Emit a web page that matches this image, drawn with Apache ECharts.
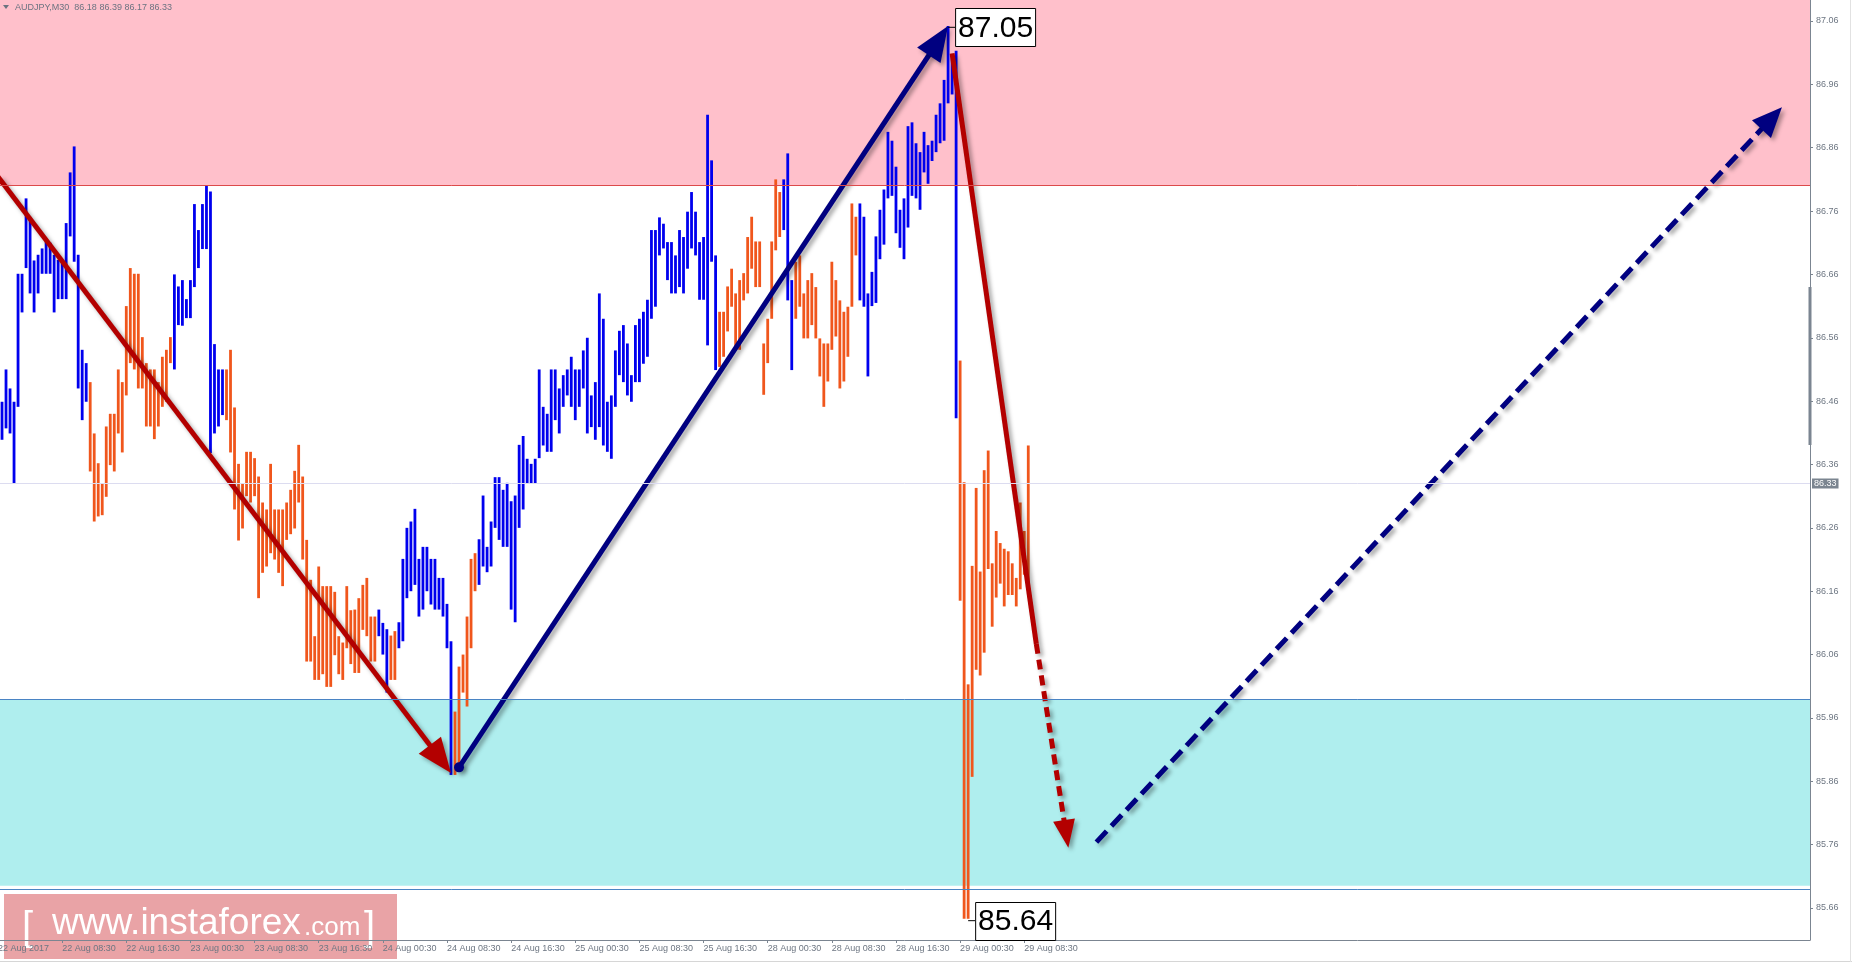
<!DOCTYPE html>
<html><head><meta charset="utf-8">
<script src="https://cdn.jsdelivr.net/npm/echarts@6/dist/echarts.min.js"></script>
<style>html,body{margin:0;padding:0;background:#fff;overflow:hidden}#c{width:1852px;height:963px}</style>
</head><body><div id="c"></div><script>
// ---------- data ----------
const symbolName = 'AUDJPY,M30';
const lastBar = [86.18, 86.39, 86.17, 86.33]; // O H L C of the current bar
const tickLabels = ["22 Aug 2017","22 Aug 08:30","22 Aug 16:30","23 Aug 00:30","23 Aug 08:30","23 Aug 16:30",
  "24 Aug 00:30","24 Aug 08:30","24 Aug 16:30","25 Aug 00:30","25 Aug 08:30","25 Aug 16:30",
  "28 Aug 00:30","28 Aug 08:30","28 Aug 16:30","29 Aug 00:30","29 Aug 08:30"];
const yTickValues = [85.66,85.76,85.86,85.96,86.06,86.16,86.26,86.36,86.46,86.56,86.66,86.76,86.86,86.96,87.06];
const yRange = [85.6095, 87.0931];
const highs = [
86.451,86.459,86.510,86.480,86.459,86.661,86.661,86.780,86.750,86.682,
86.691,86.701,86.712,86.710,86.691,86.683,86.683,86.741,86.821,86.862,
86.691,86.541,86.520,86.490,86.409,86.362,86.330,86.420,86.440,86.440,
86.510,86.490,86.610,86.670,86.661,86.661,86.561,86.520,86.510,86.510,
86.490,86.530,86.541,86.561,86.660,86.641,86.651,86.621,86.651,86.771,
86.730,86.771,86.801,86.791,86.550,86.510,86.510,86.510,86.541,86.450,
86.361,86.330,86.380,86.380,86.370,86.341,86.300,86.289,86.361,86.289,
86.289,86.289,86.300,86.320,86.350,86.391,86.341,86.241,86.178,86.089,
86.199,86.168,86.168,86.168,86.159,86.089,86.079,86.168,86.130,86.131,
86.149,86.170,86.181,86.120,86.120,86.131,86.110,86.100,86.090,86.097,
86.111,86.211,86.260,86.270,86.290,86.211,86.230,86.230,86.211,86.211,
86.181,86.181,86.140,86.081,85.970,86.041,86.060,86.120,86.211,86.220,
86.242,86.311,86.230,86.270,86.340,86.340,86.320,86.331,86.302,86.311,
86.391,86.405,86.369,86.361,86.369,86.510,86.451,86.440,86.510,86.510,
86.480,86.501,86.510,86.530,86.510,86.510,86.540,86.560,86.469,86.490,
86.630,86.590,86.459,86.469,86.540,86.571,86.580,86.551,86.501,86.580,
86.590,86.601,86.620,86.730,86.730,86.750,86.740,86.711,86.711,86.690,
86.730,86.719,86.759,86.790,86.759,86.711,86.719,86.912,86.840,86.690,
86.601,86.601,86.641,86.669,86.630,86.651,86.662,86.719,86.751,86.712,
86.712,86.551,86.590,86.712,86.810,86.790,86.810,86.851,86.651,86.680,
86.690,86.630,86.651,86.662,86.640,86.559,86.551,86.551,86.680,86.651,
86.619,86.601,86.609,86.772,86.751,86.772,86.751,86.630,86.664,86.720,
86.762,86.794,86.885,86.871,86.830,86.762,86.780,86.894,86.900,86.867,
86.853,86.885,86.864,86.871,86.912,86.930,86.967,87.052,87.008,87.013,
86.524,86.332,86.013,86.200,86.323,86.191,86.351,86.382,86.204,86.255,
86.236,86.227,86.223,86.204,86.181,86.300,86.255,86.390];
const lows = [
86.370,86.399,86.417,86.409,86.330,86.451,86.600,86.670,86.630,86.600,
86.630,86.661,86.661,86.661,86.600,86.621,86.621,86.621,86.720,86.680,
86.480,86.430,86.459,86.349,86.270,86.278,86.280,86.309,86.359,86.349,
86.409,86.379,86.469,86.520,86.510,86.480,86.480,86.420,86.420,86.400,
86.420,86.451,86.459,86.520,86.510,86.580,86.579,86.591,86.591,86.640,
86.670,86.700,86.700,86.378,86.409,86.420,86.438,86.430,86.379,86.289,
86.240,86.259,86.310,86.300,86.310,86.149,86.189,86.199,86.220,86.210,
86.189,86.168,86.241,86.250,86.259,86.300,86.210,86.049,86.049,86.020,
86.020,86.029,86.009,86.009,86.059,86.029,86.020,86.070,86.045,86.031,
86.031,86.099,86.089,86.049,86.049,86.089,86.060,86.000,86.020,86.020,
86.070,86.081,86.149,86.160,86.170,86.120,86.131,86.160,86.139,86.131,
86.131,86.120,86.070,85.870,85.870,85.881,86.000,85.978,86.070,86.160,
86.170,86.199,86.190,86.199,86.260,86.241,86.230,86.230,86.131,86.111,
86.260,86.289,86.330,86.330,86.330,86.370,86.390,86.380,86.380,86.430,
86.409,86.451,86.469,86.451,86.430,86.451,86.480,86.409,86.419,86.399,
86.419,86.390,86.380,86.369,86.451,86.501,86.490,86.469,86.459,86.490,
86.490,86.519,86.530,86.590,86.609,86.690,86.701,86.651,86.630,86.630,
86.640,86.630,86.669,86.701,86.690,86.620,86.620,86.548,86.680,86.509,
86.514,86.530,86.570,86.609,86.541,86.541,86.619,86.630,86.669,86.640,
86.640,86.470,86.520,86.590,86.698,86.719,86.730,86.619,86.509,86.590,
86.609,86.559,86.559,86.580,86.559,86.499,86.451,86.491,86.541,86.562,
86.480,86.491,86.530,86.609,86.690,86.619,86.609,86.499,86.610,86.615,
86.684,86.707,86.780,86.784,86.725,86.702,86.684,86.734,86.784,86.780,
86.762,86.821,86.803,86.839,86.853,86.867,86.871,86.930,86.944,86.433,
86.145,85.643,85.643,85.867,86.036,86.027,86.063,86.195,86.104,86.150,
86.172,86.136,86.154,86.154,86.136,86.163,86.186,86.170];
// wave colouring of the bars (runs of consecutive bars)
const waveRuns = [['up',23],['down',21],['up',13],['down',38],['up',3],['down',2],['up',14],
  ['down',6],['up',60],['down',16],['up',3],['down',16],['up',25],['down',18]];
const sellZone = [86.80, yRange[1]];
const buyZone = [85.695, 85.99];
const currentPrice = 86.33;
const pivotIdx = [237, 242];
const pivotPrice = [87.05, 85.64];
// wave arrows: start / end (bar index, price)
const waveFromIdx = [0, 115, 238, 259, 274];
const waveFromPrice = [86.814, 85.882, 87.009, 86.077, 85.764];
const waveToIdx = [113, 237, 259, 267, 445];
const waveToPrice = [85.873, 87.052, 86.077, 85.755, 86.924];
const waveKind = ['down', 'up', 'downPart', 'downForecast', 'upForecast'];

// ---------- build ----------
const N = 453;
const cats = Array.from({length: N}, (_, i) => String(i));
const dirs = [];
waveRuns.forEach(([k, n]) => { for (let j = 0; j < n; j++) dirs.push(k === 'up' ? 1 : 0); });
const barData = highs.map((h, i) => [i, lows[i], h, dirs[i]]);
const waveData = waveFromIdx.map((v, i) => [v, waveFromPrice[i], waveToIdx[i], waveToPrice[i]]);
const pivotData = pivotIdx.map((v, i) => [v, pivotPrice[i]]);

const BLUE = '#0000ee', ORANGE = '#f0561c';
const RED = '#b30000', NAVY = '#000080';
const waveStyle = {
  down: {color: RED, width: 5, head: true, headLen: 35, headHalf: 14},
  up: {color: NAVY, width: 5, head: true, headLen: 35, headHalf: 14, dot: true},
  downPart: {color: RED, width: 5, head: false},
  downForecast: {color: RED, width: 5, head: true, headLen: 28, headHalf: 11, dash: [10, 6]},
  upForecast: {color: NAVY, width: 5, head: true, headLen: 30, headHalf: 13, dash: [15, 7]}
};
const isTick = (i) => i % 16 === 0 && i / 16 < tickLabels.length;
const AXIS = '#7b8591', LABEL = '#6d7682';

function renderBar(params, api) {
  const i = api.value(0);
  const hi = api.coord([i, api.value(2)]);
  const lo = api.coord([i, api.value(1)]);
  return {type: 'rect', shape: {x: hi[0] - 1.4, y: hi[1], width: 2.8, height: Math.max(1, lo[1] - hi[1])},
    style: {fill: api.value(3) === 1 ? BLUE : ORANGE}};
}
function renderWave(params, api) {
  const a = api.coord([api.value(0), api.value(1)]);
  const b = api.coord([api.value(2), api.value(3)]);
  const st = waveStyle[waveKind[params.dataIndex]];
  const dx = b[0] - a[0], dy = b[1] - a[1], len = Math.hypot(dx, dy);
  const ux = dx / len, uy = dy / len, nx = -uy, ny = ux;
  const sh = {shadowBlur: 4, shadowColor: 'rgba(0,0,0,0.35)', shadowOffsetX: 3, shadowOffsetY: 3};
  const children = [];
  let ex = b[0], ey = b[1];
  if (st.head) { ex = b[0] - ux * (st.headLen - 3); ey = b[1] - uy * (st.headLen - 3); }
  const ls = Object.assign({stroke: st.color, lineWidth: st.width, fill: null}, sh);
  if (st.dash) ls.lineDash = st.dash;
  children.push({type: 'line', shape: {x1: a[0], y1: a[1], x2: ex, y2: ey}, style: ls});
  if (st.head) {
    const bx = b[0] - ux * st.headLen, by = b[1] - uy * st.headLen;
    children.push({type: 'polygon', shape: {points: [[b[0], b[1]], [bx + nx * st.headHalf, by + ny * st.headHalf], [bx - nx * st.headHalf, by - ny * st.headHalf]]},
      style: Object.assign({fill: st.color}, sh)});
  }
  if (st.dot) children.push({type: 'circle', shape: {cx: a[0], cy: a[1], r: 5}, style: Object.assign({fill: st.color}, sh)});
  return {type: 'group', children};
}
function renderPivot(params, api) {
  const p = api.coord([api.value(0), api.value(1)]);
  const bx = p[0] + 7, w = 80, h = 38;
  return {type: 'group', children: [
    {type: 'line', shape: {x1: p[0], y1: p[1], x2: bx, y2: p[1]}, style: {stroke: '#000', lineWidth: 1}},
    {type: 'rect', shape: {x: bx + 0.5, y: Math.round(p[1] - h / 2) + 0.5, width: w, height: h}, style: {fill: '#fff', stroke: '#000', lineWidth: 1}},
    {type: 'text', style: {x: bx + w / 2 + 0.5, y: p[1] + 1, text: api.value(1).toFixed(2), fill: '#000',
      font: '30px "Liberation Sans", Arial, sans-serif', textAlign: 'center', textVerticalAlign: 'middle'}}
  ]};
}

const chart = echarts.init(document.getElementById('c'), null, {renderer: 'canvas', width: 1852, height: 963});
chart.setOption({
  animation: false,
  backgroundColor: '#ffffff',
  grid: {left: -2, right: 42, top: 0, bottom: 23, containLabel: false, outerBoundsMode: 'none'},
  xAxis: {type: 'category', data: cats, boundaryGap: false,
    axisLine: {onZero: false, lineStyle: {color: AXIS, width: 1}},
    axisTick: {interval: isTick, length: 3, lineStyle: {color: AXIS}},
    axisLabel: {interval: isTick, formatter: (v) => tickLabels[Number(v) / 16] || '', align: 'left',
      color: LABEL, fontSize: 9, margin: 4, fontFamily: '"Liberation Sans", Arial, sans-serif'},
    splitLine: {show: false}},
  yAxis: {type: 'value', position: 'right', min: yRange[0], max: yRange[1],
    axisLine: {show: true, lineStyle: {color: AXIS, width: 1}},
    axisTick: {show: true, customValues: yTickValues, length: 3, lineStyle: {color: AXIS}},
    axisLabel: {customValues: yTickValues, formatter: (v) => Number(v).toFixed(2), color: LABEL, fontSize: 9, margin: 6,
      fontFamily: '"Liberation Sans", Arial, sans-serif'},
    splitLine: {show: false}},
  series: [
    {type: 'line', data: [], z: 1, silent: true,
      markArea: {silent: true, data: [
        [{yAxis: sellZone[0], itemStyle: {color: '#ffc0cb'}}, {yAxis: sellZone[1]}],
        [{yAxis: buyZone[0], itemStyle: {color: '#afeeee'}}, {yAxis: buyZone[1]}]
      ]},
      markLine: {silent: true, symbol: ['none', 'none'], label: {show: false}, data: [
        {yAxis: sellZone[0], lineStyle: {color: '#dc4a4a', width: 1, type: 'solid'}},
        {yAxis: buyZone[1], lineStyle: {color: '#4a84c4', width: 1, type: 'solid'}},
        {yAxis: buyZone[0], lineStyle: {color: '#4a84c4', width: 1, type: 'solid'}},
        {yAxis: currentPrice, lineStyle: {color: '#dcdcf0', width: 1, type: 'solid'},
          label: {show: true, position: 'end', distance: 2, formatter: currentPrice.toFixed(2), color: '#ffffff',
            backgroundColor: '#7b8590', padding: [1, 2, 0, 2], fontSize: 9, fontFamily: '"Liberation Sans", Arial, sans-serif'}}
      ]}},
    {type: 'custom', name: 'bars', z: 2, data: barData, renderItem: renderBar, encode: {x: 0, y: [1, 2]}, clip: true, silent: true},
    {type: 'custom', name: 'waves', z: 3, data: waveData, renderItem: renderWave, encode: {x: [0, 2], y: [1, 3]}, clip: false, silent: true},
    {type: 'custom', name: 'pivots', z: 4, data: pivotData, renderItem: renderPivot, encode: {x: 0, y: 1}, clip: false, silent: true}
  ],
  graphic: [
    {type: 'polygon', shape: {points: [[3, 5], [9, 5], [6, 9]]}, style: {fill: '#6b7380'}, z: 50},
    {type: 'text', x: 15, y: 7.5, style: {text: symbolName + '  ' + lastBar.map(v => v.toFixed(2)).join(' '),
      fill: '#6b7380', font: '9px "Liberation Sans", Arial, sans-serif', textVerticalAlign: 'middle'}, z: 50},
    {type: 'rect', shape: {x: 1808.5, y: 287, width: 3, height: 158}, style: {fill: AXIS}, z: 50},
    {type: 'line', shape: {x1: 0, y1: 961.5, x2: 1852, y2: 961.5}, style: {stroke: '#d6d6d6', lineWidth: 1}, z: 50},
    {type: 'line', shape: {x1: 1850.5, y1: 0, x2: 1850.5, y2: 962}, style: {stroke: '#e2e2e2', lineWidth: 1}, z: 50},
    {type: 'group', z: 100, children: [
      {type: 'rect', shape: {x: 4, y: 894, width: 393, height: 65}, style: {fill: 'rgba(206,51,57,0.45)'}},
      {type: 'text', x: 22, y: 929, style: {text: '[', fill: '#fff', font: '40px "Liberation Sans", Arial, sans-serif', textVerticalAlign: 'middle'}},
      {type: 'text', x: 52, y: 924, style: {text: 'www.instaforex', fill: '#fff', font: '37px "Liberation Sans", Arial, sans-serif', textVerticalAlign: 'middle'}},
      {type: 'text', x: 304, y: 928, style: {text: '.com', fill: '#fff', font: '26px "Liberation Sans", Arial, sans-serif', textVerticalAlign: 'middle'}},
      {type: 'text', x: 364, y: 929, style: {text: ']', fill: '#fff', font: '40px "Liberation Sans", Arial, sans-serif', textVerticalAlign: 'middle'}}
    ]}
  ]
});
</script></body></html>
